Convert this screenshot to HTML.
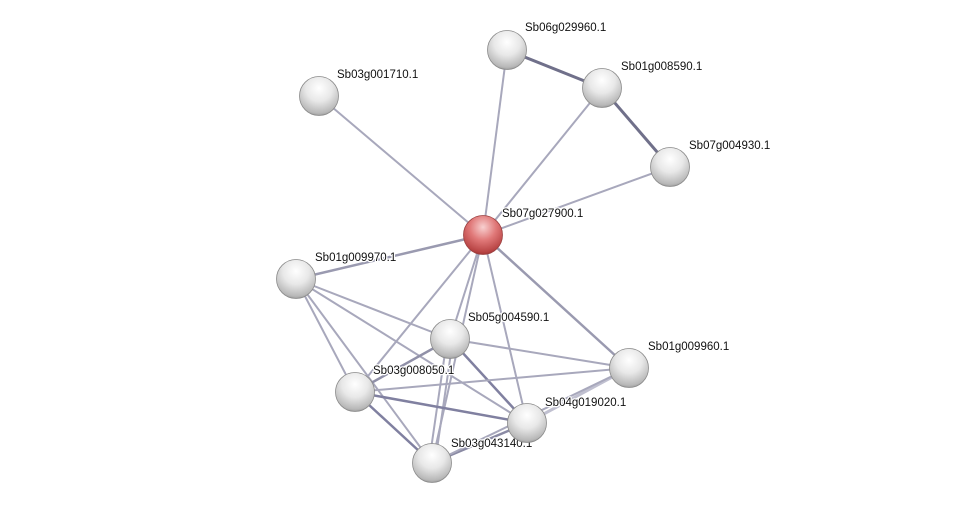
<!DOCTYPE html>
<html><head><meta charset="utf-8"><style>
html,body{margin:0;padding:0;background:#fff;}
svg text{font-family:"Liberation Sans",sans-serif;font-size:11.5px;fill:#111;stroke:#fff;stroke-width:2.5px;paint-order:stroke;stroke-linejoin:round;}
</style></head><body>
<svg width="975" height="509" viewBox="0 0 975 509" xmlns="http://www.w3.org/2000/svg">
<defs>
<radialGradient id="g" cx="0.5" cy="0.3" r="0.75">
<stop offset="0" stop-color="#ffffff"/><stop offset="0.45" stop-color="#e8e8e8"/><stop offset="0.85" stop-color="#b8b8b8"/><stop offset="1" stop-color="#8a8a8a"/>
</radialGradient>
<radialGradient id="r" cx="0.5" cy="0.3" r="0.75">
<stop offset="0" stop-color="#f8d0d0"/><stop offset="0.45" stop-color="#e07878"/><stop offset="0.85" stop-color="#b84444"/><stop offset="1" stop-color="#902828"/>
</radialGradient>
</defs>
<g stroke="#a8a8bc" stroke-width="2" fill="none">
<line x1="483" y1="235" x2="507" y2="50"/>
<line x1="483" y1="235" x2="602" y2="88"/>
<line x1="483" y1="235" x2="319" y2="96"/>
<line x1="483" y1="235" x2="670" y2="167"/>
<line x1="483" y1="235" x2="296" y2="279" stroke="#9a9ab0" stroke-width="2.5"/>
<line x1="483" y1="235" x2="450" y2="339"/>
<line x1="483" y1="235" x2="629" y2="368" stroke="#9a9ab0" stroke-width="2.5"/>
<line x1="483" y1="235" x2="355" y2="392"/>
<line x1="483" y1="235" x2="527" y2="423"/>
<line x1="483" y1="235" x2="432" y2="463"/>
<line x1="507" y1="50" x2="602" y2="88" stroke="#70708a" stroke-width="3"/>
<line x1="602" y1="88" x2="670" y2="167" stroke="#70708a" stroke-width="3"/>
<line x1="296" y1="279" x2="450" y2="339"/>
<line x1="296" y1="279" x2="355" y2="392"/>
<line x1="296" y1="279" x2="527" y2="423"/>
<line x1="296" y1="279" x2="432" y2="463"/>
<line x1="450" y1="339" x2="629" y2="368"/>
<line x1="450" y1="339" x2="355" y2="392" stroke="#9090a8" stroke-width="2.5"/>
<line x1="450" y1="339" x2="527" y2="423" stroke="#8080a0" stroke-width="2.5"/>
<line x1="447" y1="339" x2="429" y2="463"/>
<line x1="453" y1="339" x2="435" y2="463"/>
<line x1="355" y1="392" x2="527" y2="423" stroke="#8080a0" stroke-width="2.5"/>
<line x1="355" y1="392" x2="432" y2="463" stroke="#8080a0" stroke-width="2.5"/>
<line x1="355" y1="392" x2="629" y2="368"/>
<line x1="527" y1="423" x2="432" y2="463" stroke="#8a8aa4" stroke-width="2.5"/>
<line x1="527" y1="423" x2="629" y2="368" stroke="#c0c0d0" stroke-width="3"/>
<line x1="432" y1="463" x2="629" y2="368"/>
</g>
<g>
<text x="525" y="31">Sb06g029960.1</text>
<text x="621" y="70">Sb01g008590.1</text>
<text x="337" y="78">Sb03g001710.1</text>
<text x="689" y="149">Sb07g004930.1</text>
<text x="502" y="217">Sb07g027900.1</text>
<text x="315" y="261">Sb01g009970.1</text>
<text x="468" y="321">Sb05g004590.1</text>
<text x="648" y="350">Sb01g009960.1</text>
<text x="373" y="374">Sb03g008050.1</text>
<text x="545" y="406">Sb04g019020.1</text>
<text x="451" y="447">Sb03g043140.1</text>
</g>
<g stroke="#8a8a8a" stroke-width="0.8">
<circle cx="507" cy="50" r="19.5" fill="url(#g)"/>
<circle cx="602" cy="88" r="19.5" fill="url(#g)"/>
<circle cx="319" cy="96" r="19.5" fill="url(#g)"/>
<circle cx="670" cy="167" r="19.5" fill="url(#g)"/>
<circle cx="483" cy="235" r="19.5" fill="url(#r)" stroke="#9a4040"/>
<circle cx="296" cy="279" r="19.5" fill="url(#g)"/>
<circle cx="450" cy="339" r="19.5" fill="url(#g)"/>
<circle cx="629" cy="368" r="19.5" fill="url(#g)"/>
<circle cx="355" cy="392" r="19.5" fill="url(#g)"/>
<circle cx="527" cy="423" r="19.5" fill="url(#g)"/>
<circle cx="432" cy="463" r="19.5" fill="url(#g)"/>
</g>
</svg>
</body></html>
